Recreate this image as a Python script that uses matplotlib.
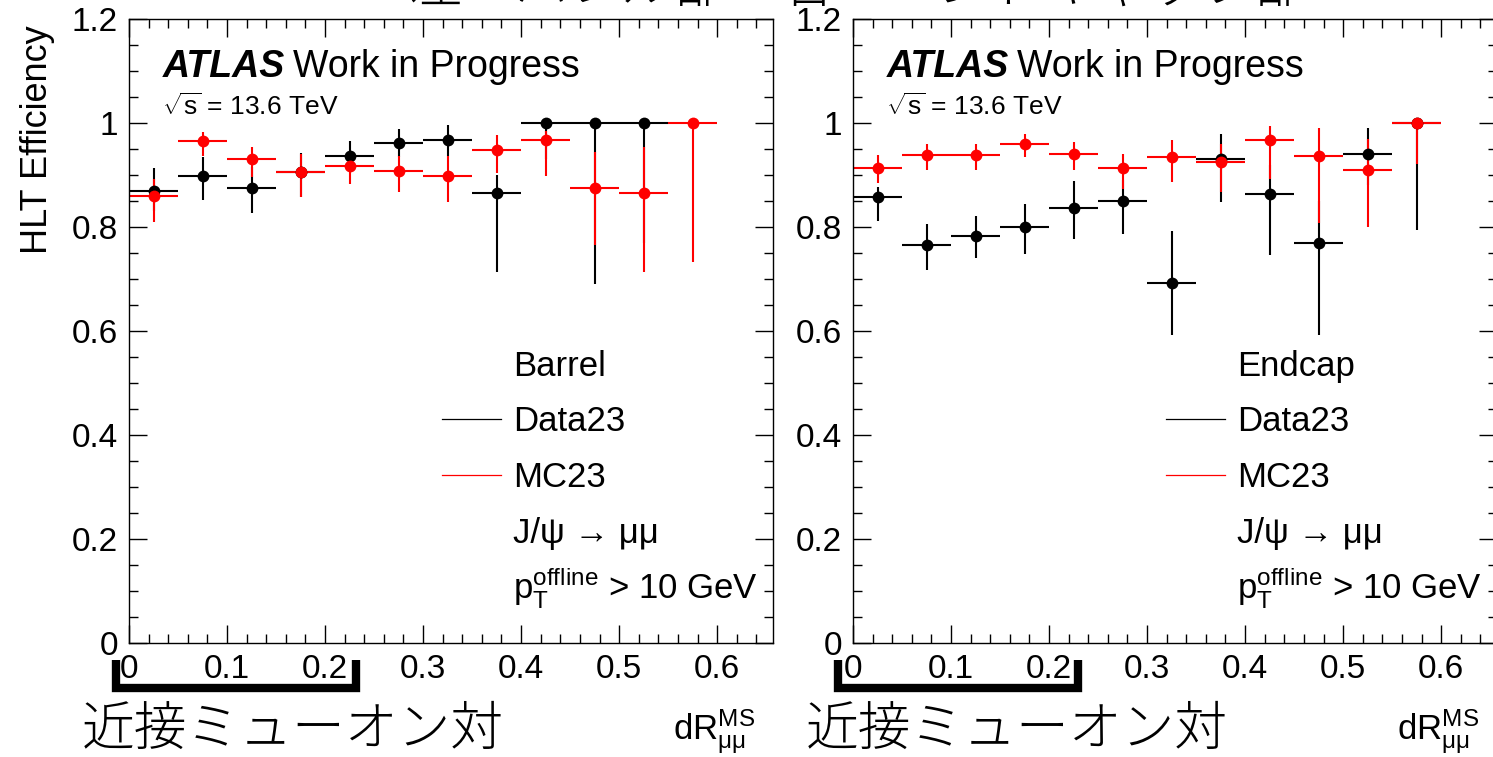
import matplotlib
matplotlib.use("Agg")
import matplotlib.pyplot as plt
from matplotlib.lines import Line2D
import numpy as np

plt.rcParams['font.family'] = ['Liberation Sans', 'Noto Sans CJK JP', 'DejaVu Sans']
plt.rcParams['mathtext.fontset'] = 'custom'
plt.rcParams['mathtext.rm'] = 'Liberation Sans'
plt.rcParams['mathtext.it'] = 'Liberation Sans:italic'

# ---------------- data ----------------
bin_centers = [0.025, 0.075, 0.125, 0.175, 0.225, 0.275, 0.325, 0.375, 0.425, 0.475, 0.525, 0.575]
bin_halfwidth = 0.025

barrel_data_eff = [0.870, 0.899, 0.875, 0.906, 0.937, 0.962, 0.968, 0.865, 1.000, 1.000, 1.000]
barrel_data_lo  = [0.830, 0.852, 0.826, 0.858, 0.905, 0.935, 0.937, 0.714, 0.930, 0.690, 0.770]
barrel_data_hi  = [0.913, 0.935, 0.915, 0.942, 0.966, 0.988, 0.997, 0.900, 1.000, 1.000, 1.000]

barrel_mc_eff = [0.860, 0.966, 0.931, 0.905, 0.918, 0.908, 0.899, 0.948, 0.968, 0.875, 0.865, 1.000]
barrel_mc_lo  = [0.810, 0.937, 0.897, 0.858, 0.883, 0.868, 0.849, 0.903, 0.899, 0.765, 0.714, 0.733]
barrel_mc_hi  = [0.892, 0.983, 0.954, 0.941, 0.947, 0.937, 0.937, 0.977, 0.985, 0.944, 0.953, 1.000]

endcap_data_eff = [0.858, 0.765, 0.783, 0.800, 0.837, 0.850, 0.692, 0.931, 0.864, 0.770, 0.941, 1.000]
endcap_data_lo  = [0.811, 0.717, 0.740, 0.749, 0.776, 0.787, 0.593, 0.848, 0.747, 0.593, 0.880, 0.794]
endcap_data_hi  = [0.877, 0.806, 0.821, 0.845, 0.888, 0.890, 0.792, 0.978, 0.920, 0.850, 0.990, 1.000]

endcap_mc_eff = [0.913, 0.939, 0.939, 0.960, 0.941, 0.913, 0.935, 0.925, 0.967, 0.937, 0.909, 1.000]
endcap_mc_lo  = [0.885, 0.909, 0.909, 0.935, 0.909, 0.874, 0.887, 0.867, 0.893, 0.808, 0.800, 0.922]
endcap_mc_hi  = [0.939, 0.960, 0.960, 0.979, 0.963, 0.941, 0.967, 0.960, 0.994, 0.990, 0.970, 1.000]

x_ticks = [0, 0.1, 0.2, 0.3, 0.4, 0.5, 0.6]
x_ticklabels = ['0', '0.1', '0.2', '0.3', '0.4', '0.5', '0.6']
y_ticks = [0, 0.2, 0.4, 0.6, 0.8, 1.0, 1.2]
y_ticklabels = ['0', '0.2', '0.4', '0.6', '0.8', '1', '1.2']

title_text = '左：バレル部　右：エンドキャップ部'
bracket_text = '近接ミューオン対'
region_labels = ['Barrel', 'Endcap']
# --------------------------------------

W, H = 1493, 757
fig = plt.figure(figsize=(W / 100, H / 100), dpi=100)

def fx(px):
    return px / W

def fy(py):
    return 1 - py / H

ax_w = 644 / W
ax_h = 624 / H
axes = [fig.add_axes([fx(129), fy(643), ax_w, ax_h]),
        fig.add_axes([fx(853), fy(643), ax_w, ax_h])]

datasets = [
    (barrel_data_eff, barrel_data_lo, barrel_data_hi, barrel_mc_eff, barrel_mc_lo, barrel_mc_hi),
    (endcap_data_eff, endcap_data_lo, endcap_data_hi, endcap_mc_eff, endcap_mc_lo, endcap_mc_hi),
]

TICK_FS = 24
for i, ax in enumerate(axes):
    d_eff, d_lo, d_hi, m_eff, m_lo, m_hi = datasets[i]
    for eff, lo, hi, col in [(d_eff, d_lo, d_hi, 'black'), (m_eff, m_lo, m_hi, '#ff0000')]:
        n = len(eff)
        x = np.array(bin_centers[:n])
        e = np.array(eff)
        yerr = [e - np.array(lo), np.array(hi) - e]
        ax.errorbar(x, e, xerr=bin_halfwidth, yerr=yerr, fmt='o', color=col,
                    ms=8.5, elinewidth=1.5, capsize=0, mew=0)
    ax.set_xlim(0, 0.657)
    ax.set_ylim(0, 1.2)
    ax.set_xticks(x_ticks)
    ax.set_xticklabels(x_ticklabels)
    ax.set_yticks(y_ticks)
    ax.set_yticklabels(y_ticklabels)
    ax.set_xticks(np.arange(0, 0.657, 0.02), minor=True)
    ax.set_yticks(np.arange(0, 1.2001, 0.05), minor=True)
    ax.tick_params(which='both', direction='in', top=True, right=True, width=1.0)
    ax.tick_params(which='major', length=13, labelsize=TICK_FS, pad=8)
    ax.tick_params(which='minor', length=6.5)
    for sp in ax.spines.values():
        sp.set_linewidth(1.0)

    ax.text(0.052, 0.907, 'ATLAS', transform=ax.transAxes, fontsize=27,
            fontweight='bold', fontstyle='italic', va='baseline', ha='left')
    ax.text(0.052 + 0.203, 0.907, 'Work in Progress', transform=ax.transAxes,
            fontsize=27, va='baseline', ha='left')
    ax.text(0.052, 0.846, r'$\sqrt{\rm s}$ = 13.6 TeV', transform=ax.transAxes,
            fontsize=19, va='baseline', ha='left')

fig.text(fx(38), fy(25), 'HLT Efficiency', fontsize=26, rotation=90,
         ha='center', va='top')

# legend-style annotations (figure pixels)
for i, off in enumerate([0, 724]):
    fig.text(fx(513 + off), fy(376), region_labels[i], fontsize=25, va='baseline')
    fig.text(fx(513 + off), fy(431), 'Data23', fontsize=25, va='baseline')
    fig.text(fx(513 + off), fy(487), 'MC23', fontsize=25, va='baseline')
    fig.text(fx(513 + off), fy(543), 'J/ψ → μμ', fontsize=25, va='baseline',
             family=['Liberation Sans', 'DejaVu Sans'])
    fig.text(fx(513 + off), fy(598), r'p$_{\rm T}^{\rm offline}$ > 10 GeV', fontsize=25,
             va='baseline')
    fig.add_artist(Line2D([fx(442 + off), fx(501 + off)], [fy(419), fy(419)],
                          color='black', lw=0.9, transform=fig.transFigure))
    fig.add_artist(Line2D([fx(442 + off), fx(501 + off)], [fy(475), fy(475)],
                          color='#ff0000', lw=0.9, transform=fig.transFigure))

    # x-axis label
    fig.text(fx(755 + off), fy(740), r'dR$^{\rm MS}_{\rm \mu\mu}$', fontsize=25,
             va='baseline', ha='right')

    # bracket
    bx0, bx1 = 116 + off * 0.9972, 356 + off * 0.9972
    fig.add_artist(Line2D([fx(bx0), fx(bx0), fx(bx1), fx(bx1)],
                          [fy(660), fy(688), fy(688), fy(660)],
                          color='black', lw=6, solid_joinstyle='miter',
                          solid_capstyle='butt', transform=fig.transFigure))
    fig.text(fx(82 + off), fy(745), bracket_text, fontsize=38, va='baseline', ha='left',
             family=['Noto Sans CJK JP'], fontweight='light')

fig.text(fx(410), fy(2), title_text, fontsize=38, va='baseline', ha='left',
         family=['Noto Sans CJK JP'], fontweight='light')

fig.savefig('out.png', dpi=100)
